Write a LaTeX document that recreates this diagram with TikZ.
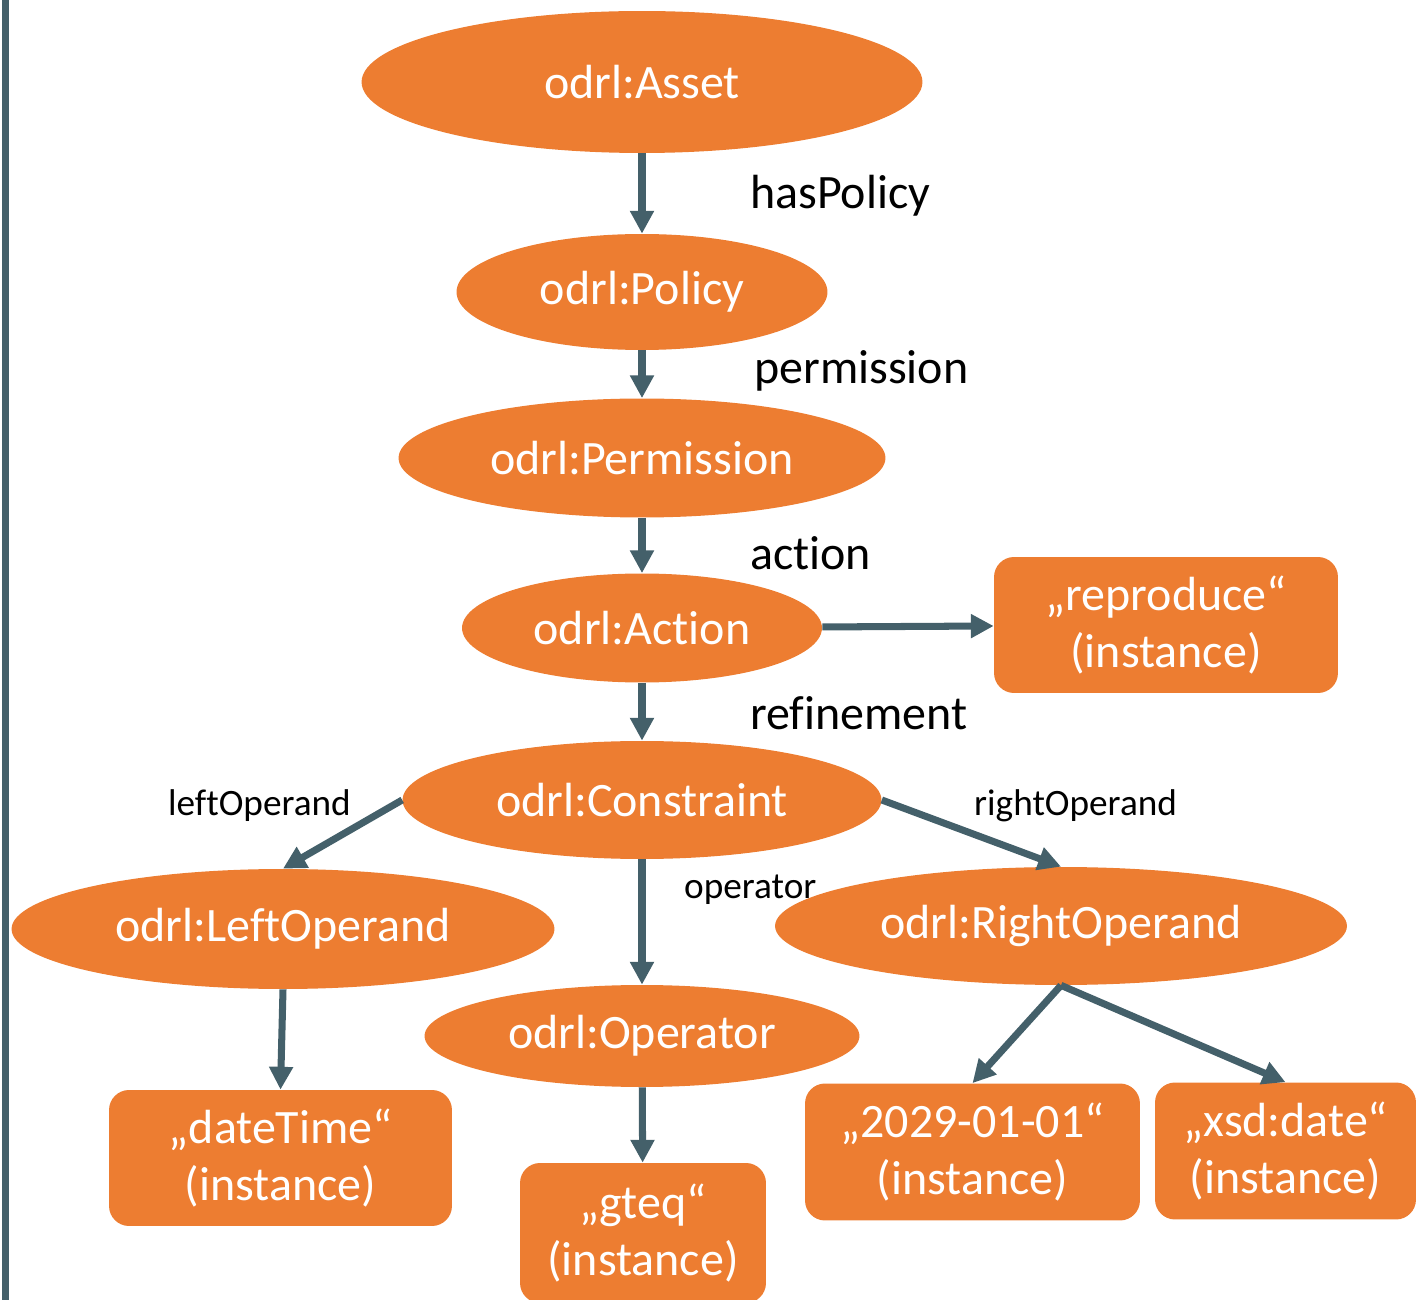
\documentclass[tikz,border=0pt]{standalone}
\usepackage{fontspec}
\setmainfont{Carlito}[Ligatures=NoCommon]
\usepackage{xcolor}
\usepackage{tikz}
\usetikzlibrary{arrows.meta,shapes.geometric}

\definecolor{odrlorange}{HTML}{ED7D31}
\definecolor{slate}{HTML}{44606A}

\begin{document}
\begin{tikzpicture}[
    x=0.02cm, y=-0.02cm,
    cls/.style={ellipse, fill=odrlorange, text=white, inner sep=0pt,
        font=\fontsize{27.3}{33}\selectfont},
    inst/.style={rectangle, rounded corners=0.4cm, fill=odrlorange, text=white,
        align=center, inner sep=0pt, font=\fontsize{27.3}{32.6}\selectfont},
    link/.style={draw=slate, line width=4pt, -{Triangle[length=13pt, width=13pt]}},
    prop/.style={anchor=west, font=\fontsize{27.3}{33}\selectfont},
    smallprop/.style={anchor=west, font=\fontsize{21.2}{25}\selectfont}
]
    \useasboundingbox (0,0) rectangle (1421,1300);

    % Side bar
    \fill[slate] (2,0) rectangle (9,1300);

    % Classes
    \node[cls, minimum width=11.22cm, minimum height=2.84cm] (asset) at (642,82) {odrl:Asset};
    \node[cls, minimum width=7.42cm, minimum height=2.32cm] (policy) at (642,292) {odrl:Policy};
    \node[cls, minimum width=9.74cm, minimum height=2.38cm] (permission) at (642,458) {odrl:Permission};
    \node[cls, minimum width=7.2cm, minimum height=2.18cm] (action) at (642,628) {odrl:Action};
    \node[cls, minimum width=9.58cm, minimum height=2.36cm] (constraint) at (642,800) {odrl:Constraint};
    \node[cls, minimum width=10.86cm, minimum height=2.4cm] (leftop) at (283,929) {odrl:LeftOperand};
    \node[cls, minimum width=8.7cm, minimum height=2.04cm] (operator) at (642,1036) {odrl:Operator};
    \node[cls, minimum width=11.44cm, minimum height=2.36cm] (rightop) at (1061,926) {odrl:RightOperand};

    % Instances
    \node[inst, minimum width=6.88cm, minimum height=2.72cm] (reproduce) at (1166,625) {„reproduce“\\(instance)};
    \node[inst, minimum width=6.86cm, minimum height=2.72cm] (datetime) at (280.5,1158) {„dateTime“\\(instance)};
    \node[inst, minimum width=4.92cm, minimum height=2.8cm] (gteq) at (643,1233) {„gteq“\\(instance)};
    \node[inst, minimum width=6.7cm, minimum height=2.74cm] (date2029) at (972.5,1152) {„2029-01-01“\\(instance)};
    \node[inst, minimum width=5.22cm, minimum height=2.74cm] (xsddate) at (1285.5,1151) {„xsd:date“\\(instance)};

    % Properties
    \draw[link] (asset) -- (policy);
    \draw[link] (policy) -- (permission);
    \draw[link] (permission) -- (action);
    \draw[link] (action) -- (reproduce);
    \draw[link] (action) -- (constraint);
    \draw[link] (constraint.west) -- (leftop.north);
    \draw[link] (constraint) -- (operator);
    \draw[link] (constraint.east) -- (rightop.north);
    \draw[link] (leftop.south) -- (datetime.north);
    \draw[link] (operator) -- (gteq);
    \draw[link] (rightop.south) -- (date2029.north);
    \draw[link] (rightop.south) -- (xsddate.north);

    % Labels
    \node[prop] (lblhaspolicy) at (744,196) {hasPolicy};
    \node[prop] (lblpermission) at (748,371) {permission};
    \node[prop] (lblaction) at (744,553) {action};
    \node[prop] (lblrefinement) at (744,713) {refinement};
    \node[smallprop] (lblleft) at (162,806) {leftOperand};
    \node[smallprop] (lblright) at (968,806) {rightOperand};
    \node[smallprop] (lbloperator) at (678,890) {operator};
\end{tikzpicture}
\end{document}
